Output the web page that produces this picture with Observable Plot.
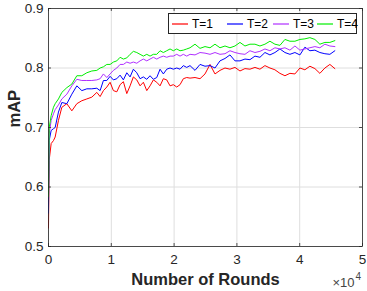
<!DOCTYPE html>
<html>
<head>
<meta charset="utf-8">
<script src="https://cdn.jsdelivr.net/npm/d3@7"></script>
<script src="https://cdn.jsdelivr.net/npm/@observablehq/plot@0.6"></script>
<style>
  html, body { margin: 0; padding: 0; background: #fff; }
  #wrap { position: relative; width: 367px; height: 291px; font-family: "Liberation Sans", Arial, sans-serif; }
  #legend { position: absolute; left: 168px; top: 13px; width: 189px; height: 21px; border: 1px solid #262626; background: #fff; box-sizing: border-box; }
  .item { position: absolute; top: 0; height: 19px; display: flex; align-items: center; font-size: 12px; color: #000; }
  .item svg { display: block; margin-right: 4px; }
</style>
</head>
<body>
<div id="wrap"></div>
<script>
const rounds = [0, 107, 425, 791, 1061, 1586, 2127, 2922, 3717, 4513, 5308, 6103, 6899, 7694, 8219, 8744, 9285, 9810, 10335, 10876, 11400, 11925, 12466, 12991, 13516, 14057, 14582, 15107, 15648, 16172, 16698, 17238, 17763, 18288, 18829, 19354, 19879, 20420, 20945, 21470, 22011, 22535, 23331, 24126, 24921, 25717, 26512, 27307, 28103, 28898, 29694, 30489, 31284, 32080, 32875, 33670, 34466, 35261, 36056, 36852, 37647, 38443, 39238, 40033, 40828, 41624, 42419, 43214, 44010, 44805, 45600];

const mapT1 = [0.531, 0.645, 0.673, 0.678, 0.684, 0.712, 0.734, 0.740, 0.728, 0.740, 0.745, 0.748, 0.751, 0.759, 0.752, 0.762, 0.768, 0.776, 0.762, 0.760, 0.772, 0.777, 0.757, 0.770, 0.785, 0.780, 0.770, 0.776, 0.762, 0.770, 0.780, 0.776, 0.770, 0.782, 0.780, 0.770, 0.772, 0.768, 0.772, 0.782, 0.784, 0.783, 0.784, 0.782, 0.790, 0.806, 0.790, 0.796, 0.800, 0.798, 0.801, 0.795, 0.799, 0.798, 0.801, 0.798, 0.804, 0.800, 0.797, 0.791, 0.787, 0.791, 0.790, 0.800, 0.797, 0.803, 0.799, 0.791, 0.800, 0.806, 0.799];

const mapT2 = [0.556, 0.678, 0.695, 0.698, 0.700, 0.726, 0.742, 0.740, 0.756, 0.770, 0.762, 0.765, 0.765, 0.766, 0.762, 0.779, 0.779, 0.786, 0.780, 0.782, 0.788, 0.780, 0.792, 0.785, 0.798, 0.792, 0.782, 0.785, 0.781, 0.787, 0.781, 0.784, 0.798, 0.790, 0.798, 0.800, 0.798, 0.800, 0.798, 0.804, 0.801, 0.804, 0.796, 0.806, 0.803, 0.804, 0.800, 0.812, 0.816, 0.822, 0.812, 0.812, 0.815, 0.814, 0.820, 0.818, 0.826, 0.822, 0.826, 0.832, 0.826, 0.823, 0.826, 0.822, 0.835, 0.829, 0.830, 0.826, 0.824, 0.823, 0.829];

const mapT3 = [0.600, 0.689, 0.712, 0.723, 0.730, 0.738, 0.748, 0.756, 0.770, 0.781, 0.779, 0.779, 0.779, 0.780, 0.782, 0.790, 0.784, 0.790, 0.796, 0.800, 0.806, 0.806, 0.810, 0.808, 0.810, 0.808, 0.812, 0.815, 0.812, 0.815, 0.818, 0.815, 0.818, 0.820, 0.818, 0.820, 0.820, 0.823, 0.820, 0.823, 0.820, 0.823, 0.822, 0.826, 0.825, 0.823, 0.826, 0.823, 0.824, 0.829, 0.826, 0.824, 0.823, 0.829, 0.826, 0.828, 0.832, 0.829, 0.834, 0.832, 0.834, 0.830, 0.837, 0.830, 0.832, 0.834, 0.836, 0.834, 0.840, 0.837, 0.836];

const mapT4 = [0.584, 0.700, 0.720, 0.734, 0.740, 0.748, 0.759, 0.767, 0.773, 0.787, 0.787, 0.792, 0.795, 0.796, 0.800, 0.802, 0.806, 0.806, 0.810, 0.812, 0.818, 0.815, 0.817, 0.823, 0.828, 0.826, 0.823, 0.820, 0.823, 0.820, 0.823, 0.823, 0.829, 0.826, 0.829, 0.832, 0.829, 0.832, 0.829, 0.830, 0.832, 0.834, 0.840, 0.833, 0.836, 0.834, 0.840, 0.834, 0.837, 0.834, 0.837, 0.843, 0.837, 0.840, 0.840, 0.837, 0.840, 0.845, 0.840, 0.838, 0.848, 0.845, 0.845, 0.848, 0.849, 0.851, 0.848, 0.840, 0.843, 0.843, 0.846];

const seriesNames = ["T=1", "T=2", "T=3", "T=4"];
const seriesColors = ["#ff0000", "#0000ff", "#b030ff", "#00ee00"];
const xTicks = [0, 10000, 20000, 30000, 40000, 50000];
const yTicks = [0.5, 0.6, 0.7, 0.8, 0.9];

const allSeries = [mapT1, mapT2, mapT3, mapT4];
const data = allSeries.flatMap((vals, i) => vals.map((v, j) => ({x: rounds[j], y: v, s: seriesNames[i]})));

const chart = Plot.plot({
  width: 367,
  height: 291,
  marginLeft: 48,
  marginRight: 5,
  marginTop: 8,
  marginBottom: 45,
  style: {fontFamily: "'Liberation Sans', Arial, sans-serif", fontSize: "13.5px", color: "#262626", background: "#fff"},
  x: {domain: [0, 50000], ticks: xTicks, tickFormat: d => String(d / 10000), label: null},
  y: {domain: [0.5, 0.9], ticks: yTicks, tickFormat: d3.format(".1f"), label: null},
  color: {domain: seriesNames, range: seriesColors},
  marks: [
    Plot.gridX(xTicks, {stroke: "#dedede", strokeOpacity: 1}),
    Plot.gridY(yTicks, {stroke: "#dedede", strokeOpacity: 1}),
    Plot.line(data, {x: "x", y: "y", z: "s", stroke: "s", strokeWidth: 1}),
    Plot.frame({stroke: "#262626", strokeWidth: 0.8}),
    Plot.ruleX(xTicks, {x: d => d, y1: 0.5, y2: 0.505, stroke: "#262626", strokeWidth: 0.8}),
    Plot.ruleX(xTicks, {x: d => d, y1: 0.895, y2: 0.9, stroke: "#262626", strokeWidth: 0.8}),
    Plot.ruleY(yTicks, {y: d => d, x1: 0, x2: 480, stroke: "#262626", strokeWidth: 0.8}),
    Plot.ruleY(yTicks, {y: d => d, x1: 49520, x2: 50000, stroke: "#262626", strokeWidth: 0.8}),
    Plot.axisX({ticks: xTicks, tickSize: 0, tickPadding: 8, tickFormat: d => String(d / 10000), label: null}),
    Plot.axisY({ticks: yTicks, tickSize: 0, tickPadding: 5, tickFormat: d3.format(".1f"), label: null}),
    Plot.text(["Number of Rounds"], {frameAnchor: "bottom", dy: 33, fontSize: 16.5, fontWeight: "bold", fill: "#262626", lineAnchor: "middle"}),
    Plot.text(["mAP"], {frameAnchor: "left", dx: -34, rotate: -90, fontSize: 16.5, fontWeight: "bold", fill: "#262626"}),
    Plot.text(["\u00d710"], {frameAnchor: "bottom-right", dx: -8, dy: 36, textAnchor: "end", fontSize: 13, fill: "#444", lineAnchor: "middle"}),
    Plot.text(["4"], {frameAnchor: "bottom-right", dx: -7, dy: 30, textAnchor: "start", fontSize: 10, fill: "#444", lineAnchor: "middle"})
  ]
});
const wrap = document.getElementById("wrap");
wrap.appendChild(chart);

const legend = document.createElement("div");
legend.id = "legend";
const itemLefts = [3, 58, 104, 148];
const NS = "http://www.w3.org/2000/svg";
seriesNames.forEach((name, i) => {
  const item = document.createElement("div");
  item.className = "item";
  item.style.left = itemLefts[i] + "px";
  const sw = document.createElementNS(NS, "svg");
  sw.setAttribute("width", "16");
  sw.setAttribute("height", "4");
  const ln = document.createElementNS(NS, "line");
  ln.setAttribute("x1", "0");
  ln.setAttribute("x2", "16");
  ln.setAttribute("y1", "2");
  ln.setAttribute("y2", "2");
  ln.setAttribute("stroke", seriesColors[i]);
  ln.setAttribute("stroke-width", "1.2");
  sw.appendChild(ln);
  item.appendChild(sw);
  const t = document.createElement("span");
  t.textContent = name;
  item.appendChild(t);
  legend.appendChild(item);
});
wrap.appendChild(legend);
</script>
</body>
</html>
